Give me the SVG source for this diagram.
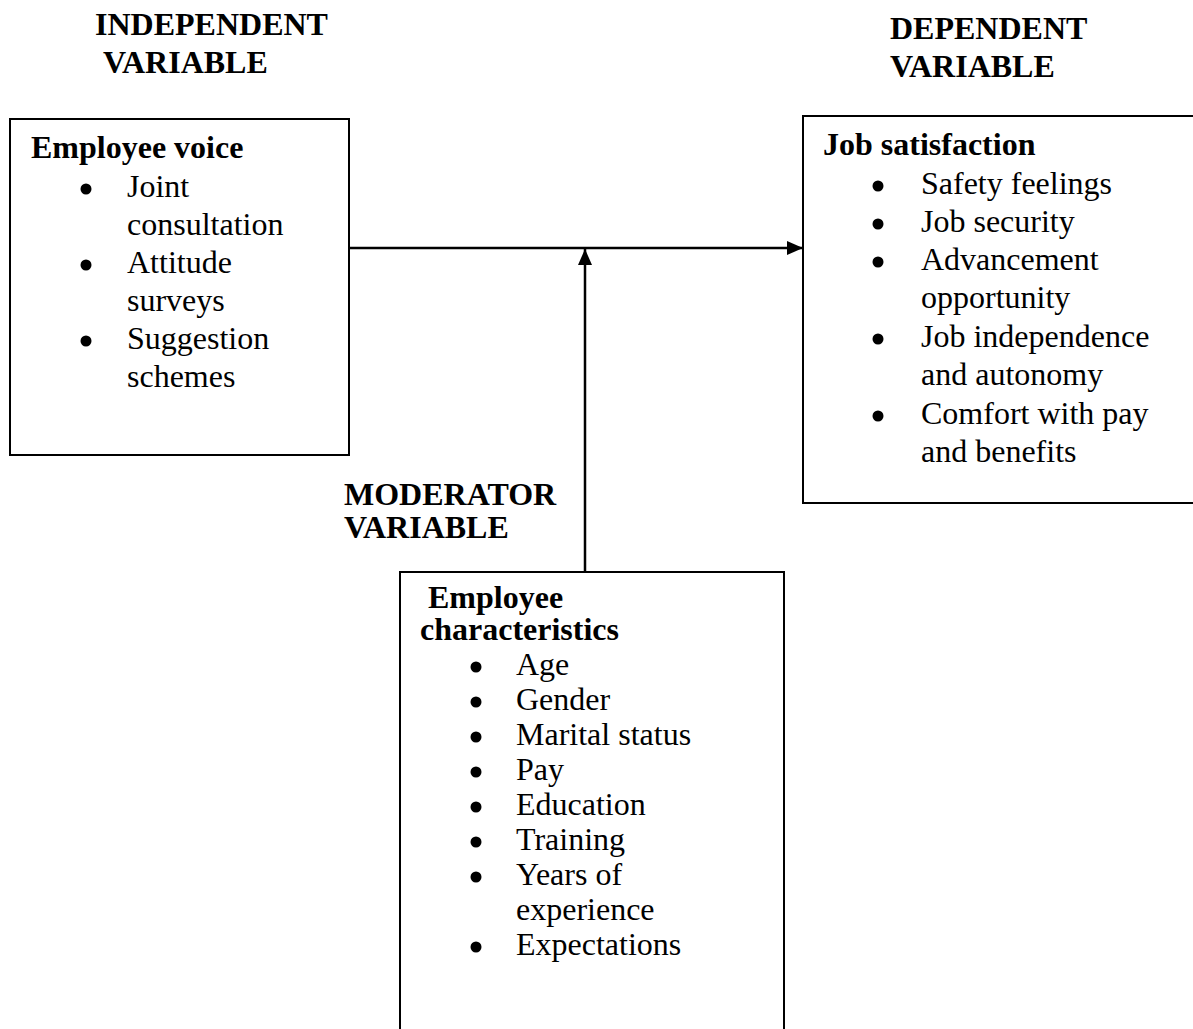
<svg xmlns="http://www.w3.org/2000/svg" width="1193" height="1029" viewBox="0 0 1193 1029">
<style>
text{font-family:"Liberation Serif","Times New Roman",serif;font-size:32px;fill:#000}
.b{font-weight:bold}
.box{fill:#fff;stroke:#000;stroke-width:2}
.dot{fill:#000}
.conn{stroke:#000;stroke-width:2.5;fill:none}
</style>
<defs>
<marker id="ah" markerWidth="16" markerHeight="14" refX="16" refY="7" orient="auto" markerUnits="userSpaceOnUse">
<path d="M0,0 L16,7 L0,14 Z" fill="#000"/>
</marker>
</defs>
<rect width="1193" height="1029" fill="#fff"/>
<g id="labels">
<text class="b" x="95" y="35">INDEPENDENT</text>
<text class="b" x="103" y="73">VARIABLE</text>
<text class="b" x="890" y="39">DEPENDENT</text>
<text class="b" x="890" y="77">VARIABLE</text>
<text class="b" x="344" y="505">MODERATOR</text>
<text class="b" x="344" y="538">VARIABLE</text>
</g>
<g id="employee-voice">
<rect class="box" x="10" y="119" width="339" height="336"/>
<text class="b" x="31" y="158">Employee voice</text>
<circle class="dot" cx="86" cy="189" r="5.5"/>
<circle class="dot" cx="86" cy="265" r="5.5"/>
<circle class="dot" cx="86" cy="341" r="5.5"/>
<text x="127" y="197">Joint</text>
<text x="127" y="235">consultation</text>
<text x="127" y="273">Attitude</text>
<text x="127" y="311">surveys</text>
<text x="127" y="349">Suggestion</text>
<text x="127" y="387">schemes</text>
</g>
<g id="job-satisfaction">
<rect class="box" x="803" y="116" width="400" height="387"/>
<text class="b" x="823" y="155">Job satisfaction</text>
<circle class="dot" cx="878" cy="186" r="5.5"/>
<circle class="dot" cx="878" cy="224" r="5.5"/>
<circle class="dot" cx="878" cy="262" r="5.5"/>
<circle class="dot" cx="878" cy="339" r="5.5"/>
<circle class="dot" cx="878" cy="416" r="5.5"/>
<text x="921" y="194">Safety feelings</text>
<text x="921" y="232">Job security</text>
<text x="921" y="270">Advancement</text>
<text x="921" y="308">opportunity</text>
<text x="921" y="347">Job independence</text>
<text x="921" y="385">and autonomy</text>
<text x="921" y="424">Comfort with pay</text>
<text x="921" y="462">and benefits</text>
</g>
<g id="employee-characteristics">
<rect class="box" x="400" y="572" width="384" height="480"/>
<text class="b" x="428" y="608">Employee</text>
<text class="b" x="420" y="640">characteristics</text>
<circle class="dot" cx="476" cy="667" r="5.5"/>
<circle class="dot" cx="476" cy="702" r="5.5"/>
<circle class="dot" cx="476" cy="737" r="5.5"/>
<circle class="dot" cx="476" cy="772" r="5.5"/>
<circle class="dot" cx="476" cy="807" r="5.5"/>
<circle class="dot" cx="476" cy="842" r="5.5"/>
<circle class="dot" cx="476" cy="877" r="5.5"/>
<circle class="dot" cx="476" cy="947" r="5.5"/>
<text x="516" y="675">Age</text>
<text x="516" y="710">Gender</text>
<text x="516" y="745">Marital status</text>
<text x="516" y="780">Pay</text>
<text x="516" y="815">Education</text>
<text x="516" y="850">Training</text>
<text x="516" y="885">Years of</text>
<text x="516" y="920">experience</text>
<text x="516" y="955">Expectations</text>
</g>
<g id="connectors">
<line class="conn" x1="349" y1="248" x2="803" y2="248" marker-end="url(#ah)"/>
<line class="conn" x1="585" y1="572" x2="585" y2="249" marker-end="url(#ah)"/>
</g>
</svg>
